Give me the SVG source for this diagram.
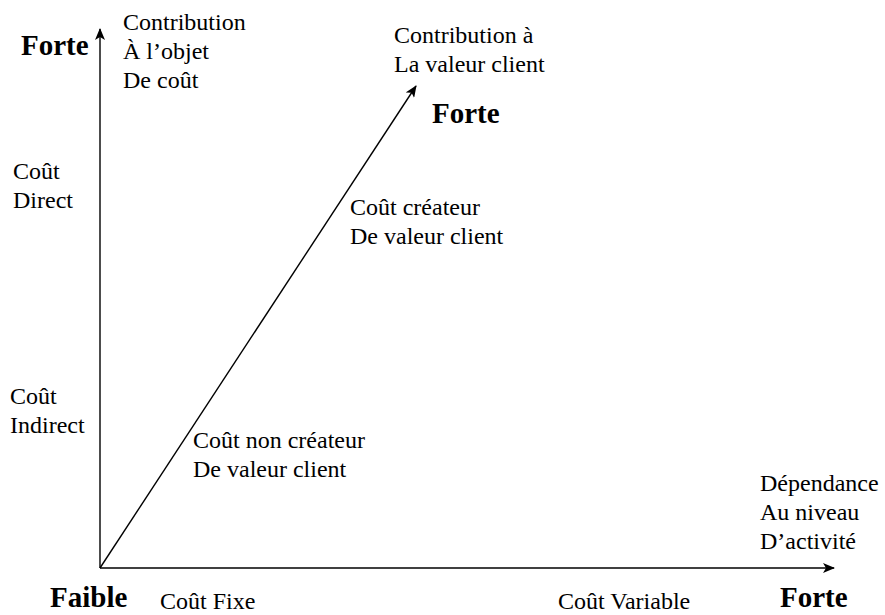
<svg xmlns="http://www.w3.org/2000/svg" width="885" height="615" viewBox="0 0 885 615">
<style>
.t{font-family:"Liberation Serif","Times New Roman",serif;font-size:24px;fill:#000}
.b{font-family:"Liberation Serif","Times New Roman",serif;font-size:29px;font-weight:bold;fill:#000}
.ax{stroke:#000;stroke-width:1.4;fill:none}
</style>
<defs>
<marker id="ah" viewBox="0 0 12 10" refX="11" refY="5" markerWidth="12" markerHeight="10" markerUnits="userSpaceOnUse" orient="auto">
<path d="M0,0 L12,5 L0,10 L3,5 Z" fill="#000"/>
</marker>
</defs>
<rect width="885" height="615" fill="#fff"/>
<g id="connectors">
<line class="ax" x1="100" y1="568" x2="100" y2="29" marker-end="url(#ah)"/>
<line class="ax" x1="100" y1="568" x2="834" y2="568" marker-end="url(#ah)"/>
<line class="ax" x1="100" y1="568" x2="416" y2="86" marker-end="url(#ah)"/>
</g>
<g id="forte-y"><text class="b" x="21" y="55">Forte</text></g>
<g id="contrib-objet"><text class="t" x="123" y="30">Contribution</text><text class="t" x="123" y="59">À l’objet</text><text class="t" x="123" y="88">De coût</text></g>
<g id="contrib-valeur"><text class="t" x="394" y="43">Contribution à</text><text class="t" x="394" y="72">La valeur client</text></g>
<g id="forte-diag"><text class="b" x="432" y="123">Forte</text></g>
<g id="cout-direct"><text class="t" x="13" y="179">Coût</text><text class="t" x="13" y="208">Direct</text></g>
<g id="cout-indirect"><text class="t" x="10" y="404">Coût</text><text class="t" x="10" y="433">Indirect</text></g>
<g id="createur"><text class="t" x="350" y="215">Coût créateur</text><text class="t" x="350" y="244">De valeur client</text></g>
<g id="non-createur"><text class="t" x="193" y="448">Coût non créateur</text><text class="t" x="193" y="477">De valeur client</text></g>
<g id="dependance"><text class="t" x="760" y="491">Dépendance</text><text class="t" x="760" y="520">Au niveau</text><text class="t" x="760" y="549">D’activité</text></g>
<g id="faible"><text class="b" x="50" y="607">Faible</text></g>
<g id="cout-fixe"><text class="t" x="160" y="609">Coût Fixe</text></g>
<g id="cout-variable"><text class="t" x="558" y="609">Coût Variable</text></g>
<g id="forte-x"><text class="b" x="780" y="607">Forte</text></g>
</svg>
